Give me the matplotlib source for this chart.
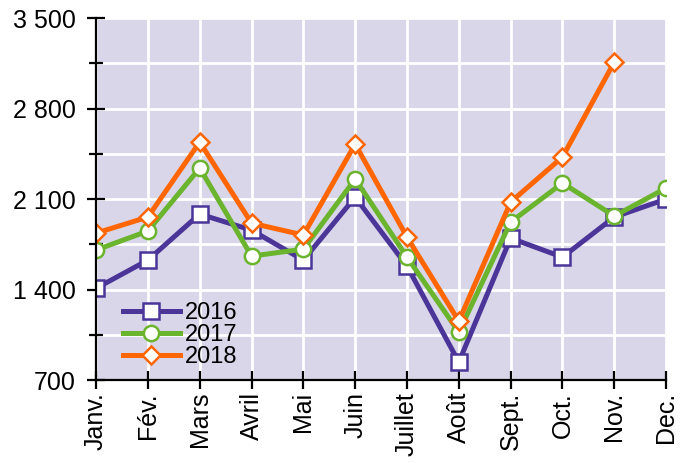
import matplotlib.pyplot as plt
from matplotlib.ticker import MultipleLocator, FuncFormatter

plt.rcParams['font.family'] = ['Liberation Sans', 'DejaVu Sans']

months = ['Janv.', 'Fév.', 'Mars', 'Avril', 'Mai', 'Juin', 'Juillet', 'Août',
          'Sept.', 'Oct.', 'Nov.', 'Dec.']
v2016 = [1410, 1628, 1984, 1860, 1628, 2115, 1582, 839, 1798, 1651, 1961, 2100]
v2017 = [1706, 1853, 2340, 1659, 1713, 2255, 1651, 1071, 1922, 2224, 1969, 2185]
v2018 = [1837, 1961, 2541, 1914, 1822, 2525, 1806, 1156, 2077, 2425, 3160]

series = [
    ('2016', v2016, '#4b3599', 's'),
    ('2017', v2017, '#6bb42d', 'o'),
    ('2018', v2018, '#ff6600', 'D'),
]

fig = plt.figure(figsize=(6.91, 4.63), dpi=100)
ax = fig.add_axes([0.139, 0.179, 0.825, 0.782])
ax.set_facecolor('#d9d6e9')

for name, vals, col, mk in series:
    ms = 11 if mk != 'D' else 9.5
    ax.plot(range(len(vals)), vals, color=col, lw=3.6, marker=mk, ms=ms,
            mfc='white', mec=col, mew=1.8, label=name, zorder=3)

ax.set_xlim(0, 11)
ax.set_ylim(700, 3500)
ax.set_xticks(range(12))
ax.set_xticklabels(months, rotation=90, fontsize=18)
ax.yaxis.set_major_locator(MultipleLocator(700))
ax.yaxis.set_minor_locator(MultipleLocator(350))
ax.yaxis.set_major_formatter(FuncFormatter(lambda v, p: f'{int(v):,}'.replace(',', ' ')))
ax.tick_params(axis='y', labelsize=18, pad=8)
ax.tick_params(axis='x', pad=2)

ax.grid(True, which='both', color='white', lw=2)
ax.set_axisbelow(True)
ax.tick_params(which='major', direction='inout', length=13, width=1.6, color='black')
ax.tick_params(which='minor', direction='inout', length=10, width=1.6, color='black')
for side in ['top', 'right']:
    ax.spines[side].set_visible(False)
for side in ['left', 'bottom']:
    ax.spines[side].set_linewidth(1.6)
    ax.spines[side].set_zorder(4)

ax.legend(loc='lower left', bbox_to_anchor=(0.01, -0.025), frameon=False,
          fontsize=17, handlelength=2.4, labelspacing=0.0, handletextpad=0.2)

fig.savefig('out.png', dpi=100)
